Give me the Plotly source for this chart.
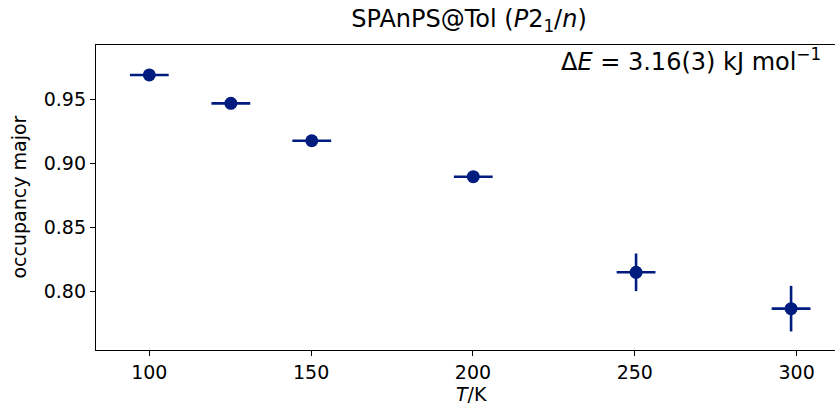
import plotly.graph_objects as go

T = [100.0, 125.2, 150.2, 200.1, 250.4, 298.3]
occ = [0.9688, 0.9466, 0.9174, 0.8893, 0.8146, 0.7862]
occ_err = [0.0015, 0.0015, 0.0018, 0.0015, 0.0147, 0.0178]
T_err = [6, 6, 6, 6, 6, 6]
xticks = [100, 150, 200, 250, 300]
yticks = [0.80, 0.85, 0.90, 0.95]

navy = "#001c7f"
font = "DejaVu Sans"

fig = go.Figure()
fig.add_trace(go.Scatter(
    x=T, y=occ, mode="markers",
    marker=dict(color=navy, size=13),
    error_y=dict(type="data", array=occ_err, color=navy, thickness=2.6, width=0),
    error_x=dict(type="data", array=T_err, color=navy, thickness=2.6, width=0),
    showlegend=False,
))

fig.update_layout(
    width=835, height=408,
    margin=dict(l=96, r=0, t=45, b=58),
    paper_bgcolor="white", plot_bgcolor="white",
    font=dict(family=font, size=19, color="black"),
    title=dict(text="SPAnPS@Tol (<i>P</i>2<sub>1</sub>/<i>n</i>)",
               xref="container", x=469/835, xanchor="center",
               yref="container", y=1-19/408, yanchor="middle",
               font=dict(size=24)),
    xaxis=dict(range=[83.53, 311.87], tickvals=xticks, ticks="outside",
               ticklen=5, tickwidth=1.3, tickcolor="black",
               showline=True, linecolor="black", linewidth=1.3, mirror=True,
               showgrid=False, zeroline=False, automargin=False),
    yaxis=dict(range=[0.7539, 0.9922], tickvals=yticks, tickformat=".2f",
               ticks="outside", ticklen=5, tickwidth=1.3, tickcolor="black",
               showline=True, linecolor="black", linewidth=1.3,
               showgrid=False, zeroline=False, automargin=False),
    annotations=[
        dict(text="Δ<i>E</i> = 3.16(3) kJ mol<sup>−1</sup>", xref="paper", yref="paper",
             x=(823-96)/(835-96), y=(350-60)/305, xanchor="right", yanchor="middle",
             showarrow=False, font=dict(size=24)),
        dict(text="<i>T</i>/K", xref="paper", yref="paper",
             x=(471-96)/(835-96), y=-(394-350)/305, xanchor="center", yanchor="middle",
             showarrow=False, font=dict(size=19)),
        dict(text="occupancy major", xref="paper", yref="paper",
             x=-(96-18)/739, y=0.5, xanchor="center", yanchor="middle", textangle=-90,
             showarrow=False, font=dict(size=19)),
    ],
)

fig.write_html("out.html", config={"displayModeBar": False},
               post_script="document.body.style.margin='0';")
